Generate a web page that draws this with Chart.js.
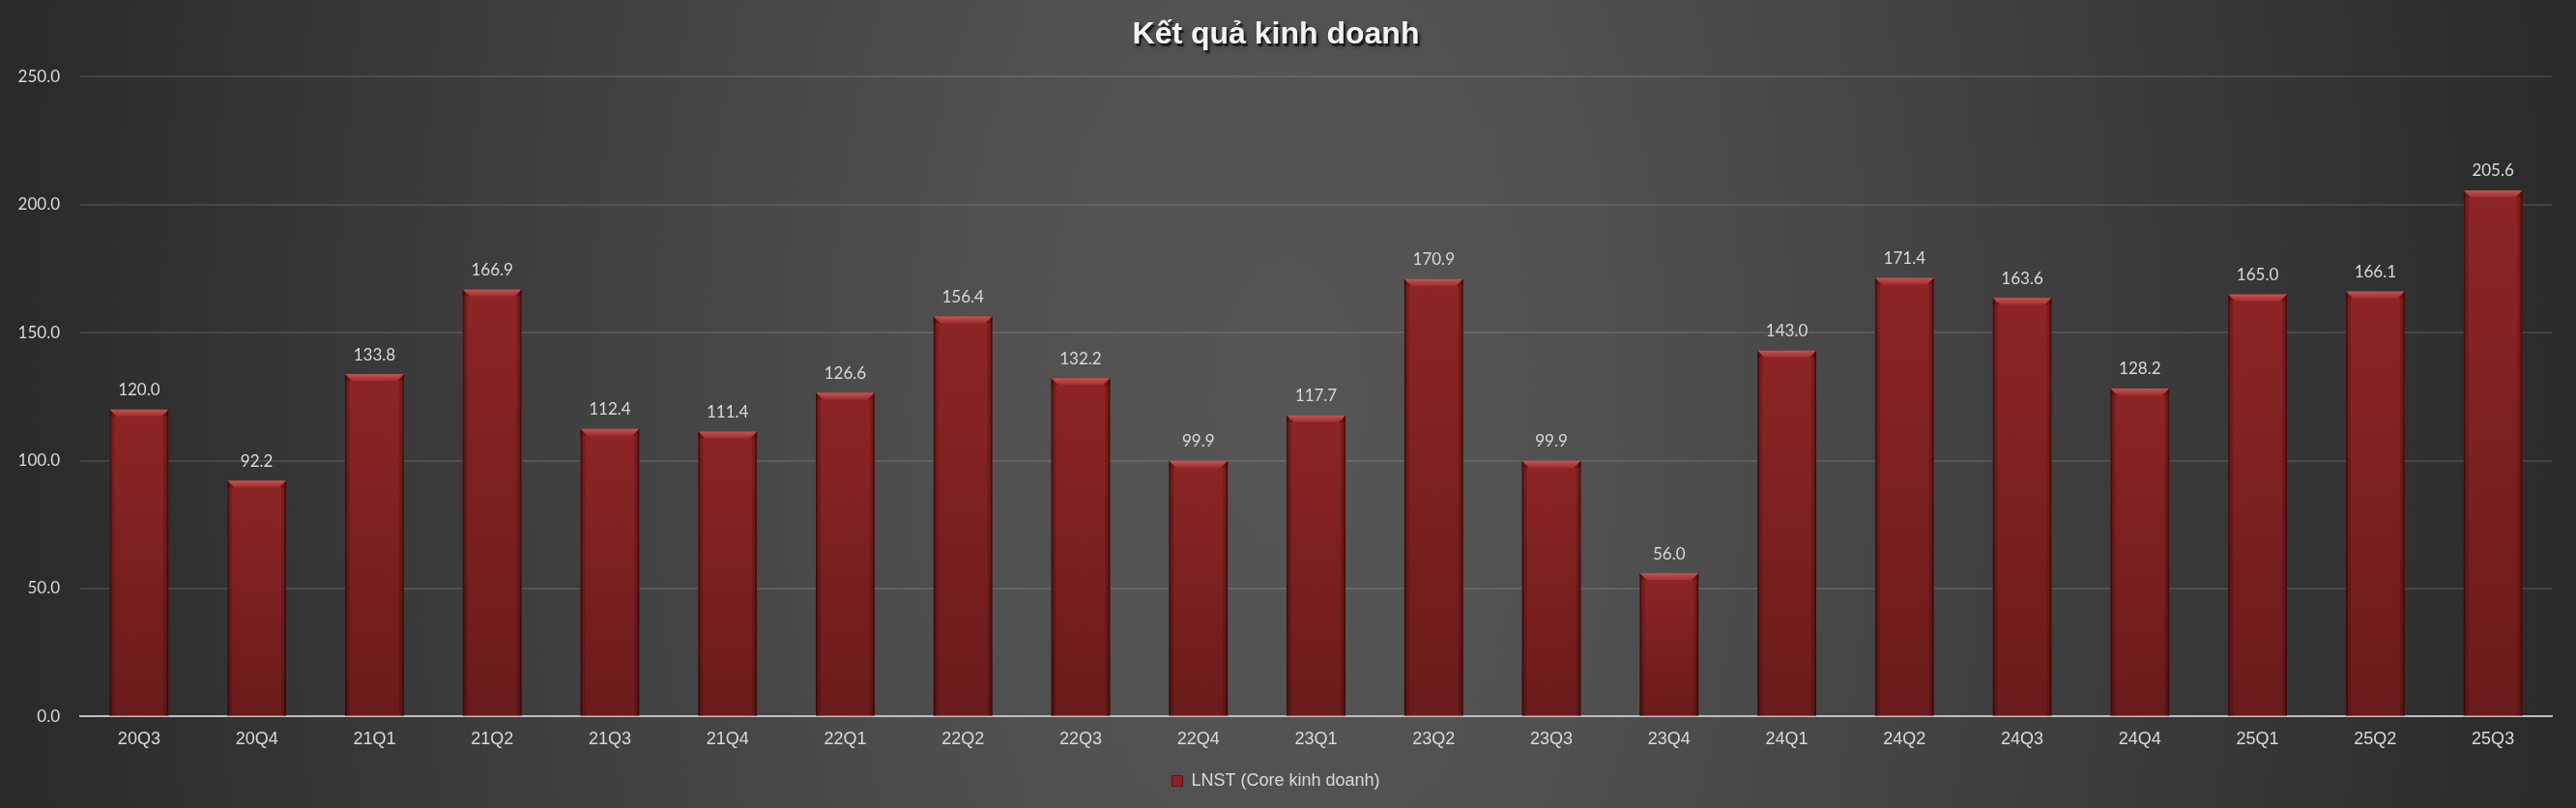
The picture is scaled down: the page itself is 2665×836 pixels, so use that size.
<!DOCTYPE html>
<html>
<head>
<meta charset="utf-8">
<script src="https://cdn.jsdelivr.net/npm/chart.js@4"></script>
<style>
  html, body { margin: 0; padding: 0; background: #2b2b2b; }
  #wrap { width: 2665px; height: 836px; }
</style>
</head>
<body>
<div id="wrap"><canvas id="c" width="2665" height="836"></canvas></div>
<script>
// Quarterly core net profit
const quarters = ['20Q3','20Q4','21Q1','21Q2','21Q3','21Q4','22Q1','22Q2','22Q3','22Q4',
                  '23Q1','23Q2','23Q3','23Q4','24Q1','24Q2','24Q3','24Q4','25Q1','25Q2','25Q3'];
const lnstCore = [120.0, 92.2, 133.8, 166.9, 112.4, 111.4, 126.6, 156.4, 132.2, 99.9,
                  117.7, 170.9, 99.9, 56.0, 143.0, 171.4, 163.6, 128.2, 165.0, 166.1, 205.6];
const yTicks = [0, 50, 100, 150, 200, 250];

const chartTitle = 'Kết quả kinh doanh';
const seriesName = 'LNST (Core kinh doanh)';

// Dark radial backdrop, lighter in the middle
const backdrop = {
  id: 'backdrop',
  beforeDraw(chart) {
    const { ctx, width, height } = chart;
    ctx.save();
    const cx = width / 2, cy = height / 2;
    ctx.translate(cx, cy);
    ctx.scale(1, 1.9);
    const g = ctx.createRadialGradient(0, 0, 0, 0, 0, 1330);
    g.addColorStop(0, '#565656');
    g.addColorStop(0.25, '#505050');
    g.addColorStop(1, '#2a2a2a');
    ctx.fillStyle = g;
    ctx.fillRect(-cx, -cy / 1.9, width, height / 1.9);
    ctx.restore();

    // soft shadow under the title text
    const tb = chart.titleBlock;
    if (tb && tb.options.display) {
      const o = tb.options;
      const lh = o.font.size * 1.2;
      const tx = (tb.left + tb.right) / 2;
      const ty = tb.top + o.padding.top + lh / 2;
      ctx.save();
      ctx.font = 'bold ' + o.font.size + 'px "Liberation Sans", Arial, sans-serif';
      ctx.textAlign = 'center';
      ctx.textBaseline = 'middle';
      ctx.fillStyle = 'rgba(0,0,0,0.55)';
      ctx.shadowColor = 'rgba(0,0,0,0.8)';
      ctx.shadowBlur = 4;
      ctx.fillText(o.text, tx + 2, ty + 3);
      ctx.restore();
    }
  }
};

// Bevelled edges on each bar plus value labels above
const barFinish = {
  id: 'barFinish',
  afterDatasetsDraw(chart) {
    const { ctx } = chart;
    const meta = chart.getDatasetMeta(0);
    const ds = chart.data.datasets[0];
    meta.data.forEach((el, i) => {
      const { x, y, base, width } = el.getProps(['x', 'y', 'base', 'width'], true);
      const l = x - width / 2, r = x + width / 2;
      const b = 7;
      ctx.save();
      // side shading
      ctx.fillStyle = 'rgba(30,0,0,0.55)';
      ctx.fillRect(l, y, 2, base - y);
      ctx.fillRect(r - 2, y, 2, base - y);
      ctx.fillStyle = 'rgba(30,0,0,0.18)';
      ctx.fillRect(l + 2, y + b, 3, base - y - b);
      ctx.fillRect(r - 5, y + b, 3, base - y - b);
      // top bevel
      const tg = ctx.createLinearGradient(0, y, 0, y + b);
      tg.addColorStop(0, '#c85250');
      tg.addColorStop(1, '#9c3030');
      ctx.fillStyle = tg;
      ctx.beginPath();
      ctx.moveTo(l, y);
      ctx.lineTo(r, y);
      ctx.lineTo(r - b, y + b);
      ctx.lineTo(l + b, y + b);
      ctx.closePath();
      ctx.fill();
      // bevel corners, darker sides
      ctx.fillStyle = 'rgba(60,5,5,0.45)';
      ctx.beginPath();
      ctx.moveTo(l, y); ctx.lineTo(l + b, y + b); ctx.lineTo(l, y + b); ctx.closePath(); ctx.fill();
      ctx.beginPath();
      ctx.moveTo(r, y); ctx.lineTo(r - b, y + b); ctx.lineTo(r, y + b); ctx.closePath(); ctx.fill();
      // value label
      ctx.font = '17px Lato, "Open Sans", sans-serif';
      ctx.fillStyle = '#d9d9d9';
      ctx.textAlign = 'center';
      ctx.textBaseline = 'middle';
      ctx.fillText(ds.data[i].toFixed(1), x, y - 20);
      ctx.restore();
    });
  }
};

function barGradient(context) {
  const chart = context.chart;
  const area = chart.chartArea;
  if (!area) return '#7d1f1f';
  const ys = chart.scales.y;
  const v = context.raw;
  const top = ys.getPixelForValue(v);
  const bot = ys.getPixelForValue(0);
  if (!isFinite(top) || !isFinite(bot) || bot - top < 1) return '#7d1f1f';
  const g = chart.ctx.createLinearGradient(0, top, 0, bot);
  g.addColorStop(0, '#8e2525');
  g.addColorStop(1, '#6a1b1b');
  return g;
}

new Chart(document.getElementById('c'), {
  type: 'bar',
  data: {
    labels: quarters,
    datasets: [{
      label: seriesName,
      data: lnstCore,
      backgroundColor: barGradient,
      borderWidth: 0,
      barPercentage: 0.5,
      categoryPercentage: 1.0
    }]
  },
  options: {
    responsive: false,
    animation: false,
    devicePixelRatio: 1,
    layout: { padding: { left: 0, right: 25, top: 0, bottom: 9 } },
    plugins: {
      title: {
        display: true,
        text: chartTitle,
        color: '#f2f2f2',
        font: { family: '"Liberation Sans", Arial, sans-serif', size: 32, weight: 'bold' },
        padding: { top: 17, bottom: 24 }
      },
      legend: {
        display: true,
        position: 'bottom',
        labels: {
          color: '#d9d9d9',
          font: { family: '"Liberation Sans", Arial, sans-serif', size: 18 },
          boxWidth: 11,
          boxHeight: 11,
          padding: 10,
          generateLabels(chart) {
            const items = Chart.defaults.plugins.legend.labels.generateLabels(chart);
            items.forEach(it => { it.fillStyle = '#8b2323'; it.strokeStyle = '#5a1414'; it.lineWidth = 1; });
            return items;
          }
        }
      },
      tooltip: { enabled: false }
    },
    scales: {
      x: {
        grid: { display: false, drawTicks: false },
        border: { display: true, color: '#bfbfbf', width: 2 },
        ticks: {
          color: '#d9d9d9',
          font: { family: '"Liberation Sans", Arial, sans-serif', size: 18 },
          padding: 13,
          maxRotation: 0,
          autoSkip: false
        }
      },
      y: {
        min: 0,
        max: 250,
        afterBuildTicks(scale) { scale.ticks = yTicks.map(v => ({ value: v })); },
        afterFit(scale) { scale.width = 83; },
        grid: {
          drawTicks: false,
          lineWidth: 2,
          color: ctx => ctx.tick && ctx.tick.value === 0 ? 'rgba(0,0,0,0)' : 'rgba(255,255,255,0.11)'
        },
        border: { display: false },
        ticks: {
          color: '#d9d9d9',
          font: { family: 'Lato, "Open Sans", sans-serif', size: 17 },
          padding: 21,
          callback: v => Number(v).toFixed(1)
        }
      }
    }
  },
  plugins: [backdrop, barFinish]
});
</script>
</body>
</html>
